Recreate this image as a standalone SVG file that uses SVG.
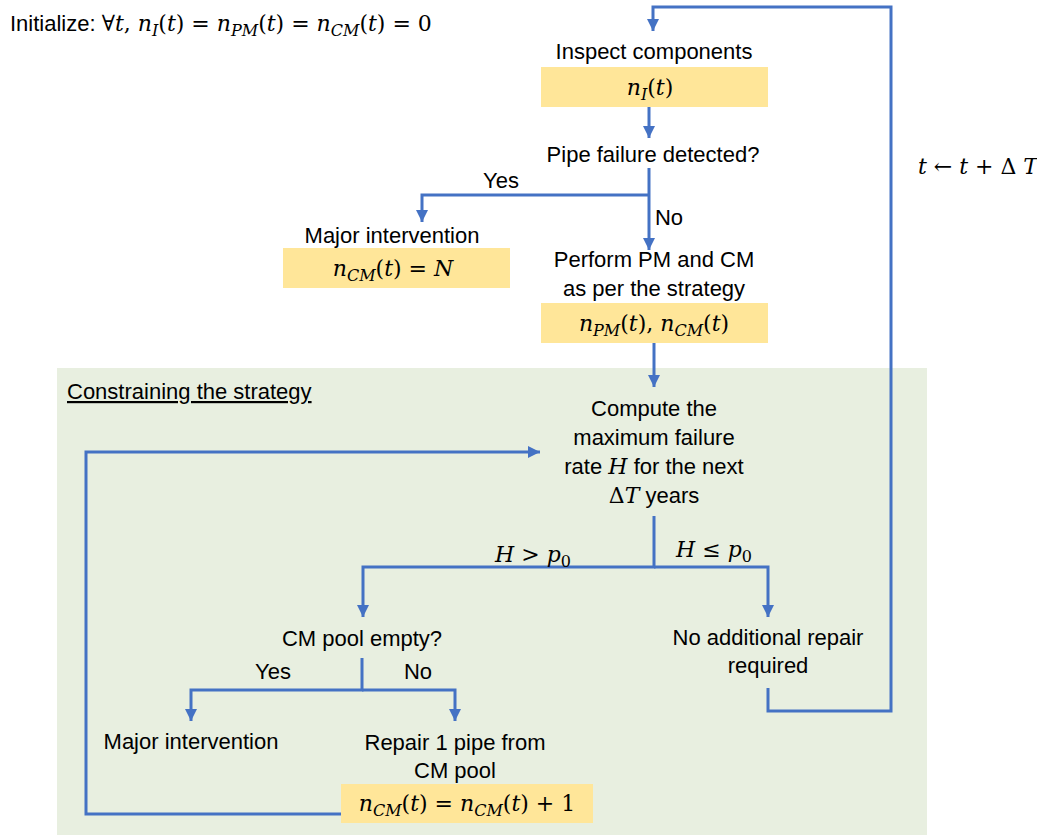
<svg xmlns="http://www.w3.org/2000/svg" width="1037" height="835" viewBox="0 0 1037 835">
<defs>
<marker id="arr" markerUnits="userSpaceOnUse" markerWidth="12" markerHeight="12" viewBox="0 0 10 10" refX="10" refY="5" orient="auto">
<path d="M0,0 L10,5 L0,10 z" fill="#4472C4"/>
</marker>
<style>
.t{font-family:"Liberation Sans","Open Sans",sans-serif;font-size:22px;fill:#000;text-anchor:middle}
.m{font-family:"DejaVu Serif","Liberation Serif",serif;font-size:22px;fill:#000;text-anchor:middle}
.i{font-style:italic}
.s{font-size:16px}
.box{fill:#FFE699}
.c{fill:none;stroke:#4472C4;stroke-width:3}
.ca{fill:none;stroke:#4472C4;stroke-width:3;marker-end:url(#arr)}
</style>
</defs>
<rect x="57" y="368" width="870" height="467" fill="#E8EFE0"/>
<g id="init">
<text x="10" y="31" class="t" style="text-anchor:start">Initialize: <tspan class="m">∀<tspan class="i">t</tspan>, <tspan class="i">n</tspan><tspan class="i s" dy="5">I</tspan><tspan dy="-5">(<tspan class="i">t</tspan>) = </tspan><tspan class="i">n</tspan><tspan class="i s" dy="5">PM</tspan><tspan dy="-5">(<tspan class="i">t</tspan>) = </tspan><tspan class="i">n</tspan><tspan class="i s" dy="5">CM</tspan><tspan dy="-5">(<tspan class="i">t</tspan>) = 0</tspan></tspan></text>
</g>
<g id="inspect">
<text x="654" y="59" class="t">Inspect components</text>
<rect class="box" x="541" y="67" width="227" height="40"/>
<text x="650" y="95" class="m"><tspan class="i">n</tspan><tspan class="i s" dy="5">I</tspan><tspan dy="-5">(<tspan class="i">t</tspan>)</tspan></text>
</g>
<g id="pipe-failure">
<text x="653" y="162" class="t">Pipe failure detected?</text>
</g>
<g id="major1">
<text x="392" y="243" class="t">Major intervention</text>
<rect class="box" x="283" y="248" width="227" height="40"/>
<text x="393" y="276" class="m"><tspan class="i">n</tspan><tspan class="i s" dy="5">CM</tspan><tspan dy="-5">(<tspan class="i">t</tspan>) = <tspan class="i">N</tspan></tspan></text>
</g>
<g id="perform">
<text x="654" y="267" class="t">Perform PM and CM</text>
<text x="654" y="296" class="t">as per the strategy</text>
<rect class="box" x="541" y="303" width="227" height="40"/>
<text x="654" y="331" class="m"><tspan class="i">n</tspan><tspan class="i s" dy="5">PM</tspan><tspan dy="-5">(<tspan class="i">t</tspan>), <tspan class="i">n</tspan></tspan><tspan class="i s" dy="5">CM</tspan><tspan dy="-5">(<tspan class="i">t</tspan>)</tspan></text>
</g>
<g id="tdt">
<text x="978" y="174" class="m"><tspan class="i">t</tspan> ← <tspan class="i">t</tspan> + Δ <tspan class="i">T</tspan></text>
</g>
<g id="constraining">
<text x="67" y="399" class="t" style="text-anchor:start;text-decoration:underline">Constraining the strategy</text>
</g>
<g id="compute">
<text x="654" y="416" class="t">Compute the</text>
<text x="654" y="445" class="t">maximum failure</text>
<text x="654" y="474" class="t">rate <tspan class="m i">H</tspan> for the next</text>
<text x="654" y="503" class="t"><tspan class="m">Δ<tspan class="i">T</tspan></tspan> years</text>
</g>
<g id="cm-pool">
<text x="362" y="646" class="t">CM pool empty?</text>
</g>
<g id="no-repair">
<text x="768" y="645" class="t">No additional repair</text>
<text x="768" y="673" class="t">required</text>
</g>
<g id="major2">
<text x="191" y="749" class="t">Major intervention</text>
</g>
<g id="repair">
<text x="455" y="750" class="t">Repair 1 pipe from</text>
<text x="455" y="778" class="t">CM pool</text>
<rect class="box" x="341" y="784" width="252" height="39"/>
<text x="467" y="811" class="m"><tspan class="i">n</tspan><tspan class="i s" dy="5">CM</tspan><tspan dy="-5">(<tspan class="i">t</tspan>) = <tspan class="i">n</tspan></tspan><tspan class="i s" dy="5">CM</tspan><tspan dy="-5">(<tspan class="i">t</tspan>) + 1</tspan></text>
</g>
<g id="connectors">
<path class="ca" d="M768,688 V711 H891 V7 H653 V31"/>
<path class="ca" d="M649,107 V138"/>
<path class="ca" d="M649,168 V250"/>
<path class="ca" d="M649,195 H422 V222"/>
<path class="ca" d="M654,343 V387"/>
<path class="ca" d="M654,516 V567 H363 V617"/>
<path class="ca" d="M654,567 H768 V617"/>
<path class="ca" d="M362,658 V690 H191 V721"/>
<path class="ca" d="M362,690 H455 V721"/>
<path class="ca" d="M341,814 H86 V452 H540"/>
</g>
<g id="labels">
<text x="501" y="188" class="t">Yes</text>
<text x="669" y="225" class="t">No</text>
<text x="533" y="562" class="m"><tspan class="i">H</tspan> &gt; <tspan class="i">p</tspan><tspan class="s" dy="5">0</tspan></text>
<text x="714" y="557" class="m"><tspan class="i">H</tspan> ≤ <tspan class="i">p</tspan><tspan class="s" dy="5">0</tspan></text>
<text x="273" y="679" class="t">Yes</text>
<text x="418" y="679" class="t">No</text>
</g>
</svg>
